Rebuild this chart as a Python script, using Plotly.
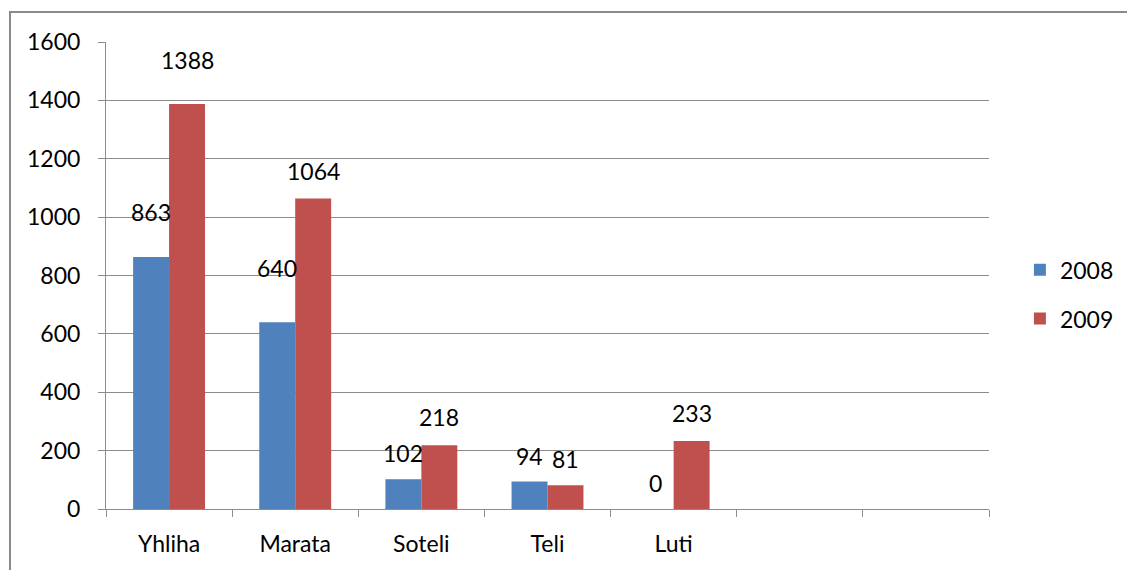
import plotly.graph_objects as go

# chart data
categories = ["Yhliha", "Marata", "Soteli", "Teli", "Luti", " ", "  "]
series_names = ["2008", "2009"]
values_2008 = [863, 640, 102, 94, 0, None, None]
values_2009 = [1388, 1064, 218, 81, 233, None, None]
y_ticks = [0, 200, 400, 600, 800, 1000, 1200, 1400, 1600]

# label lift above the bar top (px), some were dragged by hand in the original
shift_2008 = [45, 54, 26, 26, 26]
shift_2009 = [44, 27, 28, 26, 28]

BLUE = "#4F81BD"
RED = "#C0504D"
GRID = "#8c8c8c"
FONT = "Lato, 'Open Sans', sans-serif"
FS = 23

fig = go.Figure()
for name, vals, color in [
    (series_names[0], values_2008, BLUE),
    (series_names[1], values_2009, RED),
]:
    fig.add_trace(
        go.Bar(
            x=categories,
            y=vals,
            name=name,
            marker=dict(color=color, line=dict(width=0)),
            legendgroup=name,
        )
    )

annotations = []
for vals, shifts, xs in [(values_2008, shift_2008, -18), (values_2009, shift_2009, 18)]:
    for cat, v, s in zip(categories, vals, shifts):
        if v is None:
            continue
        annotations.append(
            dict(
                x=cat,
                y=v,
                text=str(v),
                showarrow=False,
                xshift=xs,
                yshift=s,
                font=dict(size=FS, color="black", family=FONT),
            )
        )

# page body has an 8px margin, so the figure is drawn 8px in from the window
W, H = 1127, 562
l, t = 98, 34
r = W - 981
b = H - 501
pw, ph = W - l - r, H - t - b

fig.update_layout(
    width=W,
    height=H,
    margin=dict(l=l, r=r, t=t, b=b, pad=0),
    paper_bgcolor="white",
    plot_bgcolor="white",
    barmode="group",
    bargap=0.43,
    bargroupgap=0,
    font=dict(family=FONT, size=FS, color="black"),
    annotations=annotations,
    legend=dict(
        x=1.035,
        y=0.46,
        xanchor="left",
        yanchor="middle",
        font=dict(size=FS, family=FONT),
        tracegroupgap=16,
        itemwidth=30,
        bgcolor="rgba(0,0,0,0)",
    ),
    shapes=[
        dict(
            type="rect",
            xref="paper",
            yref="paper",
            x0=(2 - l) / pw,
            x1=(1125 - l) / pw,
            y0=-(H + 10 - (H - b)) / ph,
            y1=(H - b - 4) / ph,
            line=dict(color="#8a8a8a", width=2),
            layer="below",
        )
    ],
    xaxis=dict(
        type="category",
        categoryorder="array",
        categoryarray=categories,
        tickson="boundaries",
        ticks="outside",
        ticklen=7,
        tickcolor=GRID,
        showline=True,
        linecolor=GRID,
        linewidth=1,
        showgrid=False,
        ticklabelstandoff=14,
        tickfont=dict(size=FS, family=FONT),
    ),
    yaxis=dict(
        range=[0, 1600],
        tickvals=y_ticks,
        ticks="outside",
        ticklen=7,
        tickcolor=GRID,
        showline=True,
        linecolor=GRID,
        linewidth=1,
        showgrid=True,
        gridcolor=GRID,
        gridwidth=1,
        zeroline=False,
        ticklabelstandoff=13,
        tickfont=dict(size=FS, family=FONT),
    ),
)

fig.write_html("out.html")
